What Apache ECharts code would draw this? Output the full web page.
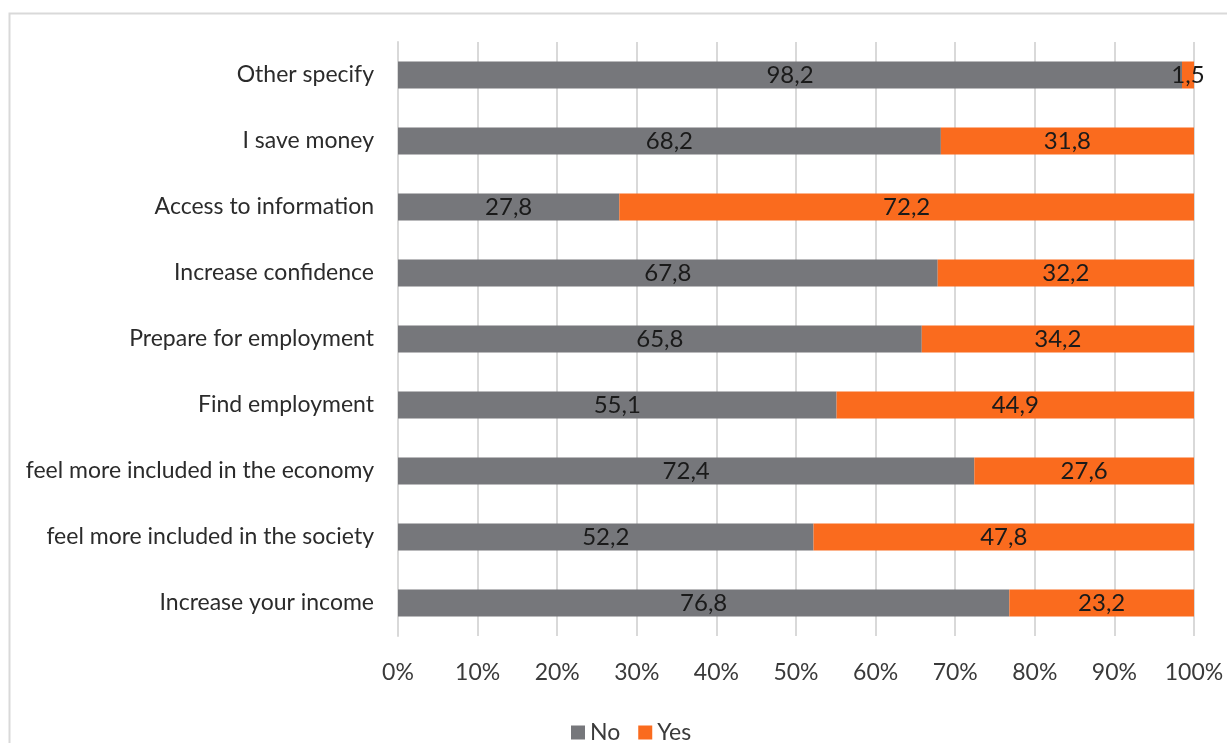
<!DOCTYPE html>
<html><head><meta charset="utf-8">
<script src="https://cdn.jsdelivr.net/npm/echarts@6/dist/echarts.min.js"></script>
<style>html,body{margin:0;padding:0;background:#fff}#c{width:1227px;height:743px}</style>
</head><body><div id="c"></div>
<script>
const categories = ["Increase your income","feel more included in the society","feel more included in the economy","Find employment","Prepare for employment","Increase confidence","Access to information","I save money","Other specify"];
const noValues = [76.8, 52.2, 72.4, 55.1, 65.8, 67.8, 27.8, 68.2, 98.2];
const yesValues = [23.2, 47.8, 27.6, 44.9, 34.2, 32.2, 72.2, 31.8, 1.5];
const xTicks = [0,10,20,30,40,50,60,70,80,90,100];

const totals = noValues.map((v,i)=>v+yesValues[i]);
const pct = (arr)=>arr.map((v,i)=>({value: v/totals[i]*100, raw: v}));
const fmt = p => String(p.data.raw.toFixed(1)).replace('.', ',');
const FONT = 'Lato';

const chart = echarts.init(document.getElementById('c'));
chart.setOption({
  animation:false,
  textStyle:{fontFamily:FONT},
  graphic:[{type:'rect', shape:{x:9.5,y:13.5,width:1240,height:760}, style:{fill:'none',stroke:'#d9d9d9',lineWidth:2}, silent:true, z:-10}],
  grid:{left:398,right:33,top:42,bottom:107,containLabel:false},
  xAxis:{type:'value',min:0,max:100,interval:10,
    axisLabel:{formatter:v=>xTicks.includes(v)?v+'%':'',color:'#3a3a3a',fontSize:23,margin:25,fontFamily:FONT},
    splitLine:{show:true,lineStyle:{color:'#d9d9d9',width:2}},
    axisLine:{show:false},axisTick:{show:false}},
  yAxis:{type:'category',data:categories,
    axisLabel:{color:'#2b2b2b',fontSize:23,margin:24,fontFamily:FONT},
    axisLine:{show:true,lineStyle:{color:'#d9d9d9',width:2}},axisTick:{show:false}},
  legend:{top:716,left:566,itemWidth:14,itemHeight:14,itemGap:18,icon:'rect',
    textStyle:{fontSize:23,color:'#3a3a3a',fontFamily:FONT},data:['No','Yes']},
  series:[
    {name:'No',type:'bar',stack:'t',barWidth:27,data:pct(noValues),itemStyle:{color:'#76777b'},
     label:{show:true,position:'inside',formatter:fmt,color:'#1a1a1a',fontSize:24,fontFamily:FONT}},
    {name:'Yes',type:'bar',stack:'t',barWidth:27,data:pct(yesValues),itemStyle:{color:'#fa6b1e'},
     label:{show:true,position:'inside',formatter:fmt,color:'#1a1a1a',fontSize:24,fontFamily:FONT}}
  ]
});
</script></body></html>
